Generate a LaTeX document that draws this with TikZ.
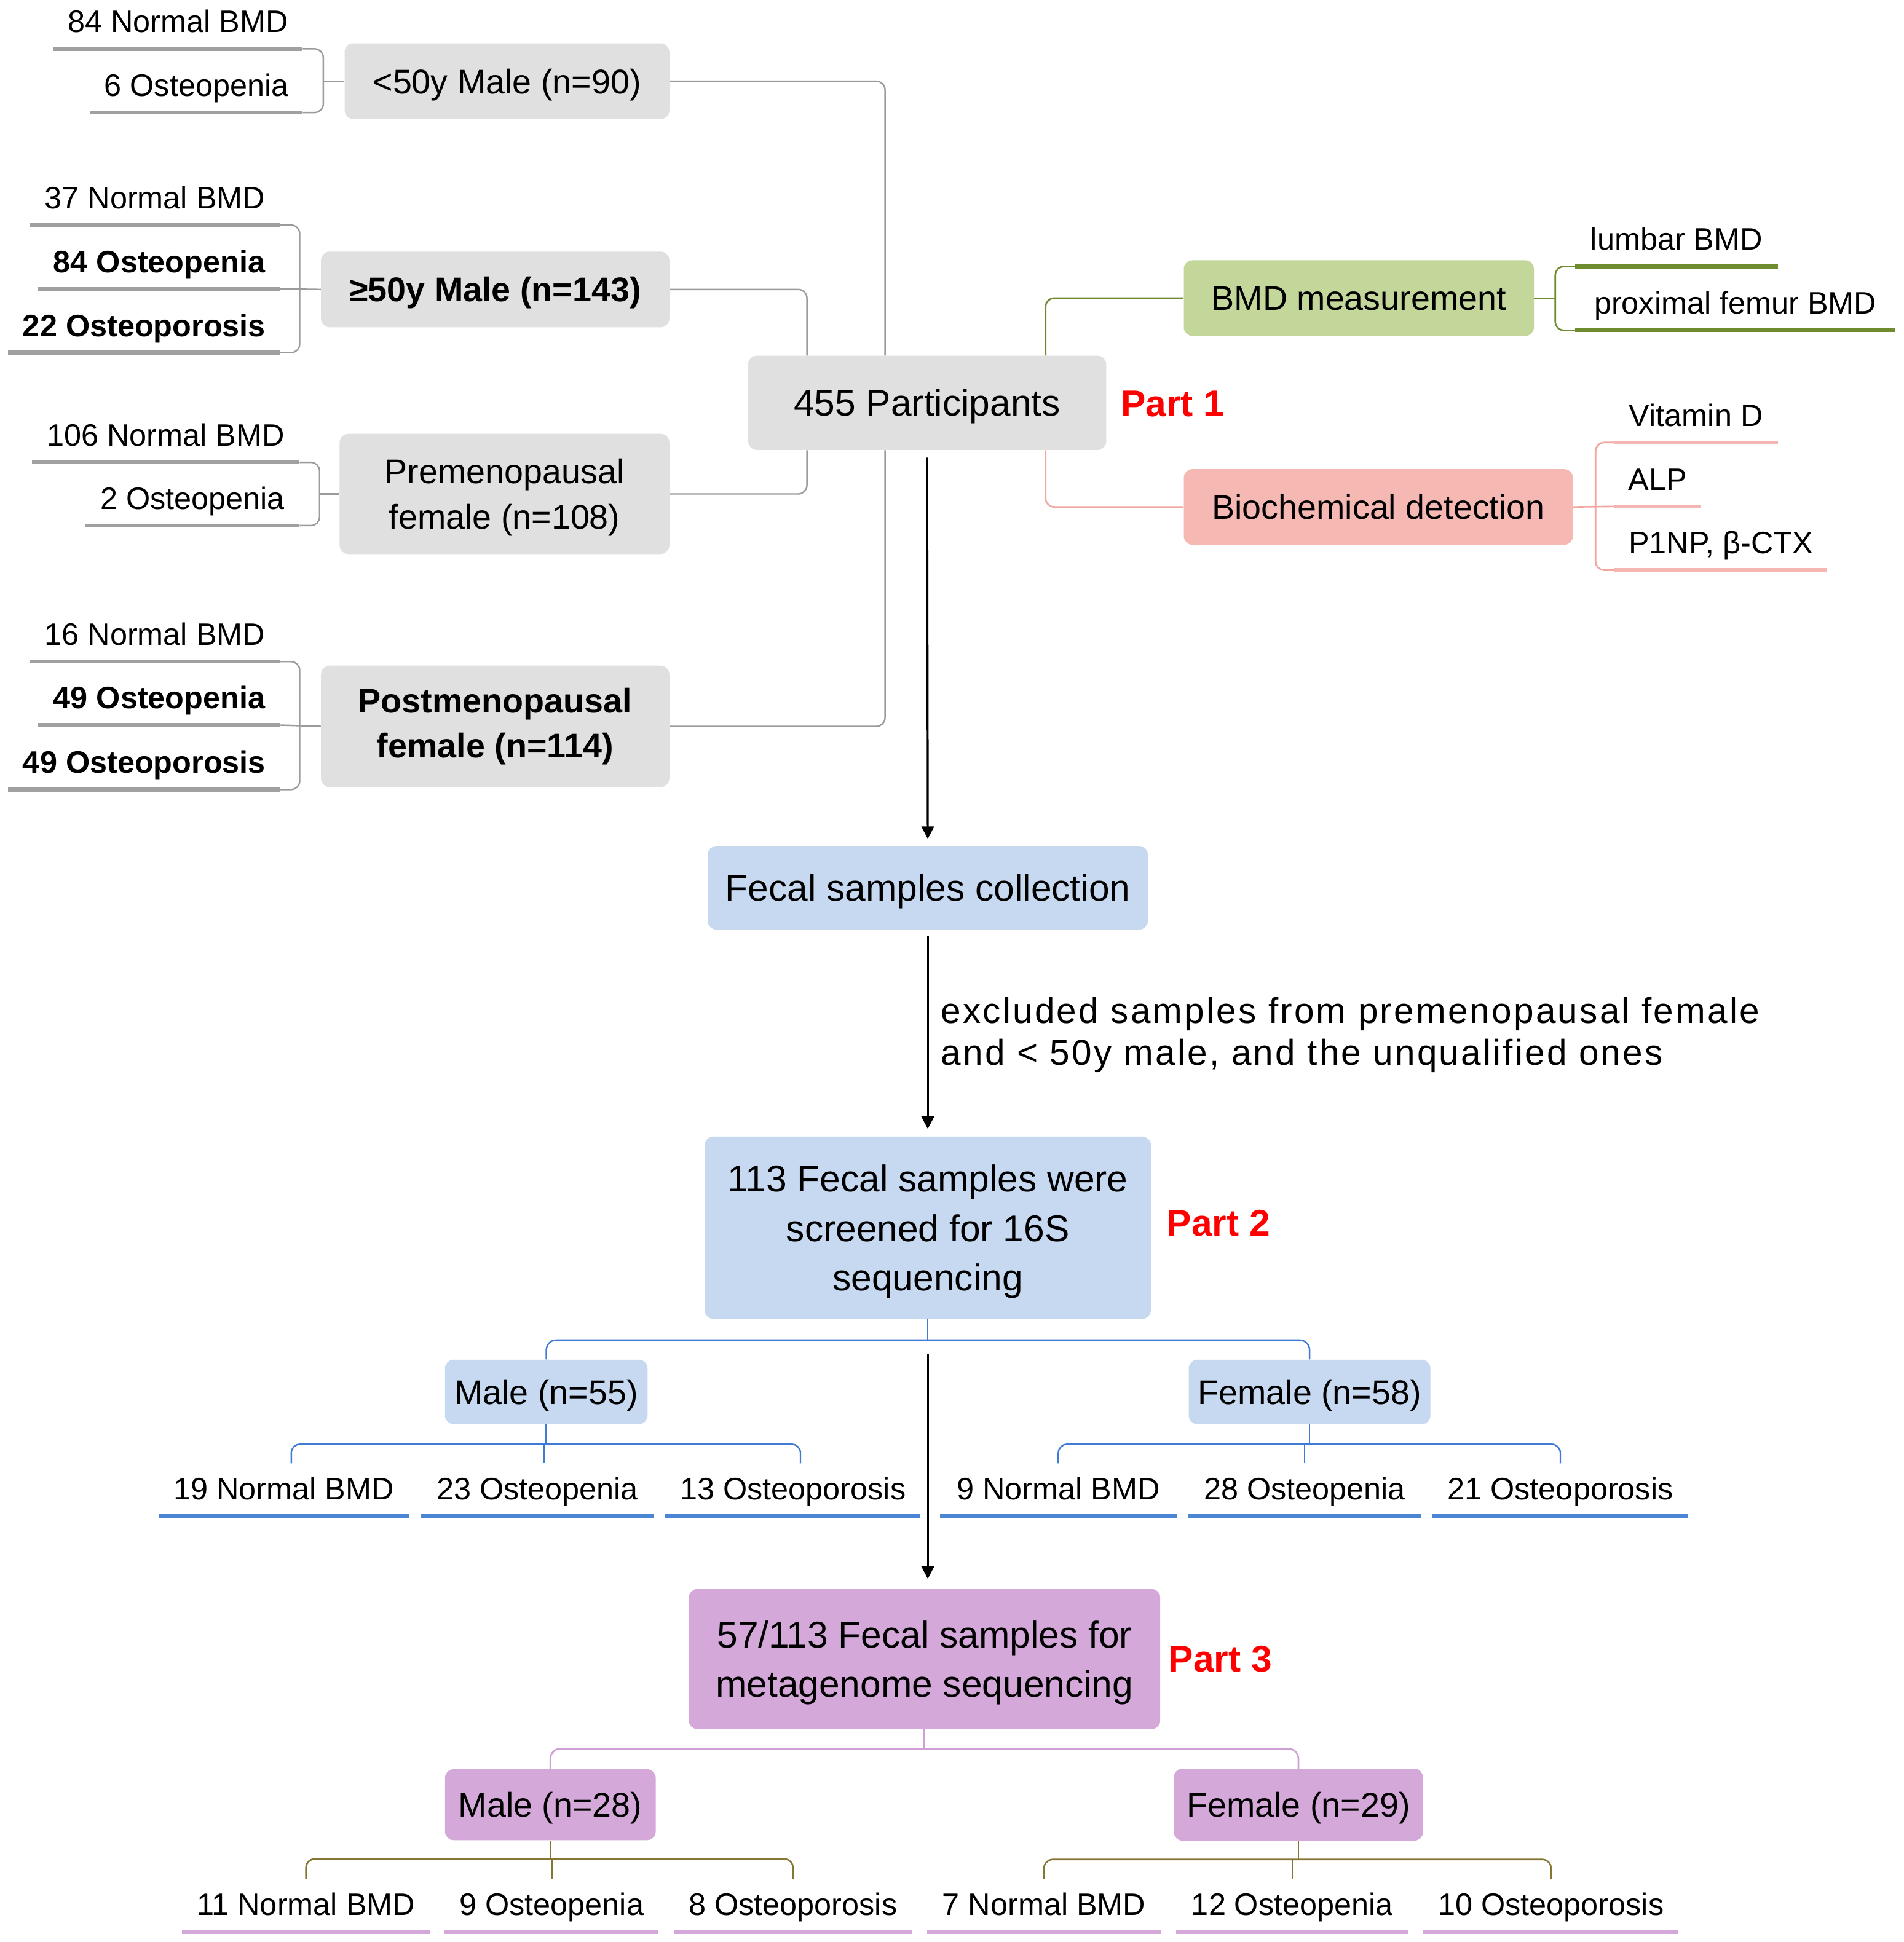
\documentclass[tikz,border=0pt]{standalone}
\usepackage{fontspec}
\setmainfont{Liberation Sans}
\newfontfamily\spacedfont[LetterSpace=5.5]{Liberation Sans}
\usetikzlibrary{arrows.meta,calc}
\definecolor{boxgray}{HTML}{E0E0E0}
\definecolor{boxgreen}{HTML}{C4D79B}
\definecolor{boxpink}{HTML}{F5B8B3}
\definecolor{boxblue}{HTML}{C6D9F1}
\definecolor{boxpurple}{HTML}{D4A8D8}
\definecolor{lngray}{HTML}{9B9B9B}
\definecolor{ulgray}{HTML}{A0A0A0}
\definecolor{lngreen}{HTML}{6E8B2F}
\definecolor{lnpink}{HTML}{F2A6A0}
\definecolor{ulpink}{HTML}{F5B5B0}
\definecolor{lnblue}{HTML}{3F7BD6}
\definecolor{ulblue}{HTML}{4A86D4}
\definecolor{lnpurple}{HTML}{CF9FD6}
\definecolor{ulpurple}{HTML}{D4A7D9}
\definecolor{lnolive}{HTML}{857633}
\definecolor{partred}{HTML}{FF0000}
\newcommand\fsleaf{\fontsize{25}{30}\selectfont}
\newcommand\fsleafb{\fontsize{25}{30}\selectfont\bfseries}
\newcommand\fsbox{\fontsize{27.6}{37}\selectfont}
\newcommand\fsboxb{\fontsize{27.6}{36}\selectfont\bfseries}
\newcommand\fsmain{\fontsize{30}{40}\selectfont}
\newcommand\fspart{\fontsize{30}{36}\selectfont\bfseries}
\newcommand\fsexcl{\spacedfont\fontsize{29}{34}\selectfont}
\tikzset{
  nbox/.style={rounded corners=7pt, inner sep=0pt, align=center, draw=none},
  gbox/.style={nbox, fill=boxgray},
  grbox/.style={nbox, fill=boxgreen},
  pkbox/.style={nbox, fill=boxpink},
  bbox/.style={nbox, fill=boxblue},
  pubox/.style={nbox, fill=boxpurple},
  oneline/.style={text height=19.8pt, text depth=0pt},
  onelinebig/.style={text height=21.5pt, text depth=0pt},
  multiline/.style={text depth=0pt},
  leaf/.style={inner sep=0pt, anchor=south, text height=18pt, text depth=13pt, font=\fsleaf},
  leafb/.style={leaf, font=\fsleafb},
  partlbl/.style={inner sep=0pt, font=\fspart, text=partred},
  cgray/.style={draw=lngray, line width=1.2pt, rounded corners=7pt},
  cgreen/.style={draw=lngreen, line width=1.3pt, rounded corners=7pt},
  cpink/.style={draw=lnpink, line width=1.3pt, rounded corners=7pt},
  cblue/.style={draw=lnblue, line width=1.2pt, rounded corners=7pt},
  cpurple/.style={draw=lnpurple, line width=1.3pt, rounded corners=7pt},
  colive/.style={draw=lnolive, line width=1.3pt, rounded corners=7pt},
  ulg/.style={draw=ulgray, line width=3.2pt},
  ulgr/.style={draw=lngreen, line width=3pt},
  ulpk/.style={draw=ulpink, line width=3pt},
  ulb/.style={draw=ulblue, line width=3.2pt},
  ulpu/.style={draw=ulpurple, line width=3.2pt},
  arr/.style={draw=black, line width=1.6pt, -{Triangle[length=10pt,width=10pt]}}
}
\begin{document}
\begin{tikzpicture}[x=1pt,y=-1pt]
\useasboundingbox (0,0) rectangle (1536,1566.8);
\fill[white] (0,0) rectangle (1536,1566.8);

% ---------------- boxes ----------------
\node[gbox, oneline, minimum width=262pt, minimum height=61pt, font=\fsbox] (a1) at (409,65.5) {<50y Male (n=90)};
\node[gbox, oneline, minimum width=281pt, minimum height=61pt, font=\fsboxb] (b1) at (399.5,233.5) {≥50y Male (n=143)};
\node[gbox, multiline, minimum width=266pt, minimum height=97pt, font=\fsbox] (c1) at (407,398.5) {Premenopausal\\female (n=108)};
\node[gbox, minimum width=281pt, minimum height=98pt, font=\fsboxb] (d1) at (399.5,586) {Postmenopausal\\female (n=114)};
\node[gbox, onelinebig, minimum width=289pt, minimum height=76pt, font=\fsmain] (p) at (748,325) {455 Participants};
\node[grbox, oneline, minimum width=282.5pt, minimum height=61pt, font=\fsbox] (bmd) at (1096.25,240.5) {BMD measurement};
\node[pkbox, oneline, minimum width=314pt, minimum height=61pt, font=\fsbox] (bio) at (1112,409) {Biochemical detection};
\node[bbox, onelinebig, minimum width=355pt, minimum height=67.5pt, font=\fsmain] (fecal) at (748.5,716.25) {Fecal samples collection};
\node[bbox, multiline, minimum width=360pt, minimum height=147pt, font=\fsmain] (s113) at (748.5,990.5) {113 Fecal samples were\\screened for 16S\\sequencing};
\node[bbox, oneline, minimum width=163.4pt, minimum height=52pt, font=\fsbox] (m55) at (440.7,1123) {Male (n=55)};
\node[bbox, oneline, minimum width=195pt, minimum height=52pt, font=\fsbox] (f58) at (1056.5,1123) {Female (n=58)};
\node[pubox, multiline, minimum width=380.3pt, minimum height=113pt, font=\fsmain] (m57) at (745.85,1338.5) {57/113 Fecal samples for\\metagenome sequencing};
\node[pubox, oneline, minimum width=170pt, minimum height=57.2pt, font=\fsbox] (m28) at (444,1456) {Male (n=28)};
\node[pubox, oneline, minimum width=201pt, minimum height=58pt, font=\fsbox] (f29) at (1047.5,1456) {Female (n=29)};

% ---------------- part labels and note ----------------
\node[partlbl] (part1) at (946,326) {Part 1};
\node[partlbl] (part2) at (983,987) {Part 2};
\node[partlbl] (part3) at (984.5,1338.6) {Part 3};
\node[anchor=west, align=left, inner sep=0pt, font=\fsexcl] (excl) at (759,835) {excluded samples from premenopausal female\\and < 50y male, and the unqualified ones};

% ---------------- leaves ----------------
\node[leaf, minimum width=201pt] (a_n) at (143.5,39.4) {84 Normal BMD};
\node[leaf, minimum width=171pt] (a_o) at (158.5,90.8) {6 Osteopenia};
\node[leaf, minimum width=202pt] (b_n) at (125,181.6) {37 Normal BMD};
\node[leafb, minimum width=195pt] (b_o) at (128.5,233) {84 Osteopenia};
\node[leafb, minimum width=219.5pt] (b_p) at (116.3,284.5) {22 Osteoporosis};
\node[leaf, minimum width=215.5pt] (c_n) at (133.75,373) {106 Normal BMD};
\node[leaf, minimum width=172.5pt] (c_o) at (155.25,424) {2 Osteopenia};
\node[leaf, minimum width=202pt] (d_n) at (125,533.8) {16 Normal BMD};
\node[leafb, minimum width=195pt] (d_o) at (128.5,585) {49 Osteopenia};
\node[leafb, minimum width=219.5pt] (d_p) at (116.3,637) {49 Osteoporosis};

\node[leaf, minimum width=163pt] (lum) at (1352.5,215) {lumbar BMD};
\node[leaf, minimum width=258pt] (prox) at (1400,266.5) {proximal femur BMD};
\node[leaf, minimum width=131.5pt] (vit) at (1368.25,357) {Vitamin D};
\node[leaf, minimum width=69.5pt] (alp) at (1337.25,408.6) {ALP};
\node[leaf, minimum width=171.5pt] (p1np) at (1388.25,460) {P1NP, β-CTX};

\node[leaf, minimum width=202pt] (m_n) at (229,1223) {19 Normal BMD};
\node[leaf, minimum width=187pt] (m_o) at (433.5,1223) {23 Osteopenia};
\node[leaf, minimum width=205.5pt] (m_p) at (639.75,1223) {13 Osteoporosis};
\node[leaf, minimum width=190.4pt] (f_n) at (853.8,1223) {9 Normal BMD};
\node[leaf, minimum width=187pt] (f_o) at (1052.5,1223) {28 Osteopenia};
\node[leaf, minimum width=205.6pt] (f_p) at (1258.8,1223) {21 Osteoporosis};

\node[leaf, minimum width=199.7pt] (mm_n) at (246.85,1558.5) {11 Normal BMD};
\node[leaf, minimum width=172pt] (mm_o) at (445,1558.5) {9 Osteopenia};
\node[leaf, minimum width=191.5pt] (mm_p) at (639.75,1558.5) {8 Osteoporosis};
\node[leaf, minimum width=188.5pt] (fm_n) at (842.25,1558.5) {7 Normal BMD};
\node[leaf, minimum width=187pt] (fm_o) at (1042.5,1558.5) {12 Osteopenia};
\node[leaf, minimum width=205.4pt] (fm_p) at (1251.3,1558.5) {10 Osteoporosis};

% ---------------- underlines ----------------
\foreach \n in {a_n,a_o,b_n,b_o,b_p,c_n,c_o,d_n,d_o,d_p}
  \draw[ulg] (\n.south west) -- (\n.south east);
\foreach \n in {lum,prox}
  \draw[ulgr] (\n.south west) -- (\n.south east);
\foreach \n in {vit,alp,p1np}
  \draw[ulpk] (\n.south west) -- (\n.south east);
\foreach \n in {m_n,m_o,m_p,f_n,f_o,f_p}
  \draw[ulb] (\n.south west) -- (\n.south east);
\foreach \n in {mm_n,mm_o,mm_p,fm_n,fm_o,fm_p}
  \draw[ulpu] (\n.south west) -- (\n.south east);

% ---------------- left brackets ----------------
\draw[cgray] (a_n.south east) -| ([xshift=-17pt]a1.west) |- (a_o.south east);
\draw[cgray] ([xshift=-17pt]a1.west) -- (a1.west);
\draw[cgray] (b_n.south east) -| ([xshift=-17pt]b1.west) |- (b_p.south east);
\draw[cgray] (b_o.south east) -- (b1.west);
\draw[cgray] (c_n.south east) -| ([xshift=-16pt]c1.west) |- (c_o.south east);
\draw[cgray] ([xshift=-16pt]c1.west) -- (c1.west);
\draw[cgray] (d_n.south east) -| ([xshift=-17pt]d1.west) |- (d_p.south east);
\draw[cgray] (d_o.south east) -- (d1.west);

% ---------------- groups to participants ----------------
\draw[cgray] (a1.east) -| ([xshift=-34pt]p.north);
\draw[cgray] (b1.east) -| ([xshift=-97pt]p.north);
\draw[cgray] (c1.east) -| ([xshift=-97pt]p.south);
\draw[cgray] (d1.east) -| ([xshift=-34pt]p.south);

% ---------------- measurements ----------------
\draw[cgreen] ([xshift=95.5pt]p.north) |- (bmd.west);
\draw[cgreen] (bmd.east) -- ([xshift=17pt]bmd.east);
\draw[cgreen] (lum.south west) -| ([xshift=17pt]bmd.east) |- (prox.south west);
\draw[cpink] ([xshift=95.5pt]p.south) |- (bio.west);
\draw[cpink] (bio.east) -- (alp.south west);
\draw[cpink] (vit.south west) -| ([xshift=18pt]bio.east) |- (p1np.south west);

% ---------------- main flow ----------------
\draw[arr] ([yshift=-6pt]p.south) -- ([yshift=5.5pt]fecal.north);
\draw[arr] ([yshift=-5pt]fecal.south) -- ([yshift=6pt]s113.north);
\draw[arr] ($(s113.south)+(0,28.5)$) -- ($(s113.south |- m57.north)+(0,-8)$);

% ---------------- 16S tree ----------------
\draw[cblue] (s113.south) -- ++(0,17);
\draw[cblue, rounded corners=8pt] (m55.north) |- ($(s113.south)+(0,17)$) -| (f58.north);
\draw[cblue] (m55.south) -- ++(0,16);
\draw[cblue] ([xshift=6pt,yshift=11pt]m_n.north) |- ($(m55.south)+(0,16)$) -| ([xshift=6pt,yshift=11pt]m_p.north);
\draw[cblue] ([xshift=5.5pt,yshift=11pt]m_o.north) -- ([xshift=5.5pt,yshift=27pt]m_o.north);
\draw[cblue] (f58.south) -- ++(0,16);
\draw[cblue] ([yshift=11pt]f_n.north) |- ($(f58.south)+(0,16)$) -| ([yshift=11pt]f_p.north);
\draw[cblue] ([yshift=11pt]f_o.north) -- ([yshift=27pt]f_o.north);

% ---------------- metagenome tree ----------------
\draw[cpurple] (m57.south) -- ++(0,15.7);
\draw[cpurple, rounded corners=8pt] (m28.north) |- ($(m57.south)+(0,15.7)$) -| (f29.north);
\draw[colive] (m28.south) -- ++(0,15);
\draw[colive] ([yshift=11pt]mm_n.north) |- ($(m28.south)+(0,15)$) -| ([yshift=11pt]mm_p.north);
\draw[colive] ([yshift=11pt]mm_o.north) -- ([yshift=27pt]mm_o.north);
\draw[colive] (f29.south) -- ++(0,15);
\draw[colive] ([yshift=11pt]fm_n.north) |- ($(f29.south)+(0,15)$) -| ([yshift=11pt]fm_p.north);
\draw[colive] ([yshift=11pt]fm_o.north) -- ([yshift=27pt]fm_o.north);
\end{tikzpicture}
\end{document}
